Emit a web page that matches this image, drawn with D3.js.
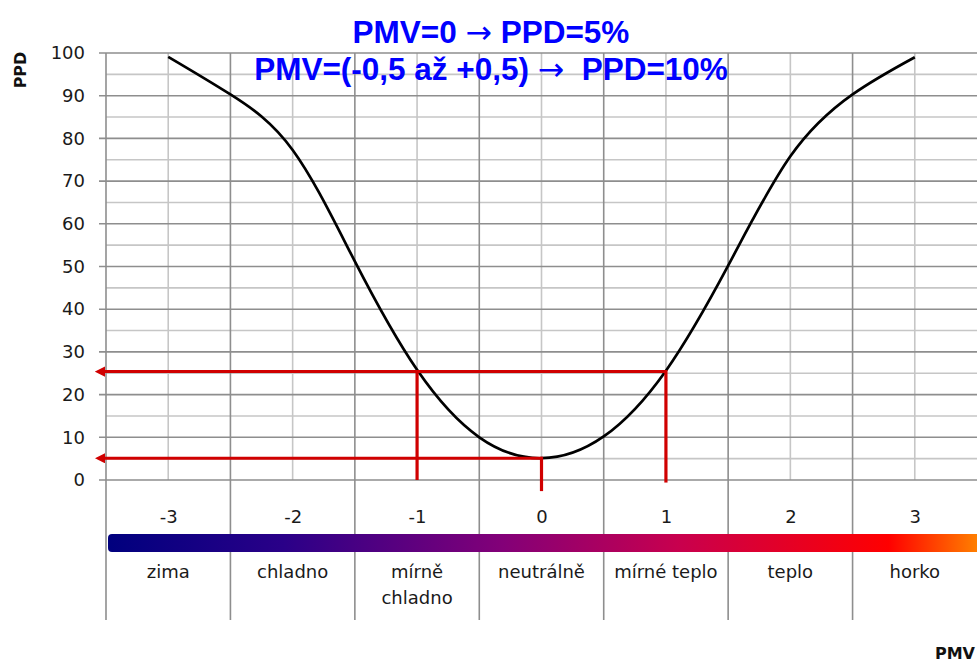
<!DOCTYPE html>
<html>
<head>
<meta charset="utf-8">
<script src="https://cdn.jsdelivr.net/npm/d3@7"></script>
<style>
  body { margin: 0; background: #fff; }
  svg { display: block; }
  .tick-label { font-family: 'DejaVu Sans', sans-serif; font-size: 18px; fill: #1a1a1a; }
  .axis-title { font-family: 'DejaVu Sans', sans-serif; font-size: 16px; font-weight: bold; fill: #111; }
  .headline { font-family: 'Liberation Sans', Arial, sans-serif; font-size: 31.5px; font-weight: bold; fill: #0000ff; }
  .headline .arrow { font-family: 'DejaVu Sans', sans-serif; font-weight: normal; }
</style>
</head>
<body>
<div id="chart"></div>
<script>
// PMV points on the curve and the PPD
const pmv = [-3, -2.5, -2, -1.5, -1, -0.5, 0, 0.5, 1, 1.5, 2, 2.5, 3]
const ppd = [99.1, 90.3, 77.3, 51.2, 25.8, 10, 5.1, 10.2, 25.6, 50.2, 75.8, 90.3, 99]

// scale categories along the PMV axis
const pmvTicks = [-3, -2, -1, 0, 1, 2, 3]
const categories = ['zima', 'chladno', 'mírně\nchladno', 'neutrálně', 'mírné teplo', 'teplo', 'horko']
const ppdTicks = [0, 10, 20, 30, 40, 50, 60, 70, 80, 90, 100]
const ppdMinor = [5, 15, 25, 35, 45, 55, 65, 75, 85, 95]

// red guide lines
const arrowLevels = [{ ppd: 25.4, pmv: 1 }, { ppd: 5.1, pmv: 0 }]
const dropLines = [{ pmv: -1, top: 25.4, bottom: 0 }, { pmv: 0, top: 5.1, bottom: -2.6 }, { pmv: 1, top: 25.4, bottom: -0.6 }]

const titleLines = ['PMV=0 → PPD=5%', 'PMV=(-0,5 až +0,5) →  PPD=10%']

const width = 977
const height = 662
const plot = { left: 106, right: 977, top: 53, bottom: 480, tableBottom: 620 }

const svg = d3
  .select('#chart')
  .append('svg')
  .attr('width', width)
  .attr('height', height)

const x = d3.scaleLinear().domain([-3.5, 3.5]).range([plot.left, plot.right])
const y = d3.scaleLinear().domain([0, 100]).range([plot.bottom, plot.top])

const majorGrey = '#8e8e8e'
const minorGrey = '#c6c6c6'

// minor horizontal grid
svg
  .append('g')
  .selectAll('line')
  .data(ppdMinor)
  .enter()
  .append('line')
  .attr('x1', plot.left)
  .attr('x2', plot.right)
  .attr('y1', d => y(d))
  .attr('y2', d => y(d))
  .attr('stroke', minorGrey)
  .attr('stroke-width', 1.6)

// light vertical lines at whole PMV values
svg
  .append('g')
  .selectAll('line')
  .data(pmvTicks)
  .enter()
  .append('line')
  .attr('x1', d => x(d))
  .attr('x2', d => x(d))
  .attr('y1', plot.top)
  .attr('y2', plot.bottom)
  .attr('stroke', minorGrey)
  .attr('stroke-width', 1.6)

// major horizontal grid (runs out to the tick marks)
svg
  .append('g')
  .selectAll('line')
  .data(ppdTicks)
  .enter()
  .append('line')
  .attr('x1', plot.left - 7)
  .attr('x2', plot.right)
  .attr('y1', d => y(d))
  .attr('y2', d => y(d))
  .attr('stroke', majorGrey)
  .attr('stroke-width', 1.6)

// category borders, down through the label table
const borders = d3.range(-3.5, 3.0, 1)
svg
  .append('g')
  .selectAll('line')
  .data(borders)
  .enter()
  .append('line')
  .attr('x1', d => x(d))
  .attr('x2', d => x(d))
  .attr('y1', plot.top)
  .attr('y2', plot.tableBottom)
  .attr('stroke', majorGrey)
  .attr('stroke-width', 1.6)

// y tick labels
const yAxis = d3
  .axisLeft(y)
  .tickValues(ppdTicks)
  .tickSize(0)
  .tickPadding(21)

svg
  .append('g')
  .attr('class', 'axis y-axis')
  .attr('transform', 'translate(' + plot.left + ',0)')
  .call(yAxis)
  .call(g => g.select('.domain').remove())
  .selectAll('text')
  .attr('class', 'tick-label')
  .style('font-size', '18px')
  .style('font-family', "'DejaVu Sans', sans-serif")

// PMV numbers under the plot
const xAxis = d3
  .axisBottom(x)
  .tickValues(pmvTicks)
  .tickSize(0)
  .tickPadding(0)
  .tickFormat(d => d3.format('d')(d).replace('−', '-'))

svg
  .append('g')
  .attr('class', 'axis x-axis')
  .attr('transform', 'translate(0,' + 510 + ')')
  .call(xAxis)
  .call(g => g.select('.domain').remove())
  .selectAll('text')
  .attr('class', 'tick-label')

// colour bar from cold to hot
const defs = svg.append('defs')
const grad = defs
  .append('linearGradient')
  .attr('id', 'thermal')
  .attr('x1', '0%')
  .attr('x2', '100%')
grad.append('stop').attr('offset', '0%').attr('stop-color', '#00007e')
grad.append('stop').attr('offset', '20%').attr('stop-color', '#2a0088')
grad.append('stop').attr('offset', '45%').attr('stop-color', '#830078')
grad.append('stop').attr('offset', '65%').attr('stop-color', '#c8004e')
grad.append('stop').attr('offset', '89%').attr('stop-color', '#ff0000')
grad.append('stop').attr('offset', '100%').attr('stop-color', '#ff8a00')

svg
  .append('rect')
  .attr('x', plot.left + 2)
  .attr('y', 534)
  .attr('width', plot.right - plot.left + 6)
  .attr('height', 18)
  .attr('rx', 4)
  .attr('fill', 'url(#thermal)')

// category names
const catText = svg
  .append('g')
  .selectAll('text')
  .data(categories)
  .enter()
  .append('text')
  .attr('class', 'tick-label')
  .attr('text-anchor', 'middle')
  .attr('x', (d, i) => x(pmvTicks[i]))
  .attr('y', 578)

catText
  .selectAll('tspan')
  .data(d => d.split('\n'))
  .enter()
  .append('tspan')
  .attr('x', function() { return d3.select(this.parentNode).attr('x') })
  .attr('dy', (d, i) => (i === 0 ? 0 : 26))
  .text(d => d)

// the PPD curve
const points = pmv.map((d, i) => [d, ppd[i]])
const line = d3
  .line()
  .x(d => x(d[0]))
  .y(d => y(d[1]))
  .curve(d3.curveNatural)

svg
  .append('path')
  .datum(points)
  .attr('d', line)
  .attr('fill', 'none')
  .attr('stroke', '#000')
  .attr('stroke-width', 2.7)

// red guides
const red = '#d00000'
defs
  .append('marker')
  .attr('id', 'arrow')
  .attr('viewBox', '0 0 10 10')
  .attr('refX', 1)
  .attr('refY', 5)
  .attr('markerWidth', 3.4)
  .attr('markerHeight', 3.4)
  .attr('orient', 'auto-start-reverse')
  .append('path')
  .attr('d', 'M0,0 L10,5 L0,10 Z')
  .attr('fill', red)

svg
  .append('g')
  .selectAll('line')
  .data(arrowLevels)
  .enter()
  .append('line')
  .attr('x1', d => x(d.pmv))
  .attr('x2', plot.left - 2)
  .attr('y1', d => y(d.ppd))
  .attr('y2', d => y(d.ppd))
  .attr('stroke', red)
  .attr('stroke-width', 3)
  .attr('marker-end', 'url(#arrow)')

svg
  .append('g')
  .selectAll('line')
  .data(dropLines)
  .enter()
  .append('line')
  .attr('x1', d => x(d.pmv))
  .attr('x2', d => x(d.pmv))
  .attr('y1', d => y(d.top) - 1.5)
  .attr('y2', d => y(d.bottom))
  .attr('stroke', red)
  .attr('stroke-width', 3.2)

// axis titles
svg
  .append('text')
  .attr('class', 'axis-title')
  .attr('transform', 'translate(26,70) rotate(-90)')
  .attr('text-anchor', 'middle')
  .text('PPD')

svg
  .append('text')
  .attr('class', 'axis-title')
  .attr('x', 975)
  .attr('y', 659)
  .attr('text-anchor', 'end')
  .text('PMV')

// headline, arrow set in a lighter face like the original
const heads = svg
  .append('g')
  .selectAll('text')
  .data(titleLines)
  .enter()
  .append('text')
  .attr('class', 'headline')
  .attr('x', 491)
  .attr('y', (d, i) => 43 + i * 37)
  .attr('text-anchor', 'middle')
  .style('white-space', 'pre')

heads
  .selectAll('tspan')
  .data(d => d.split(/(→)/))
  .enter()
  .append('tspan')
  .attr('class', d => (d === '→' ? 'arrow' : null))
  .text(d => d)
</script>
</body>
</html>
